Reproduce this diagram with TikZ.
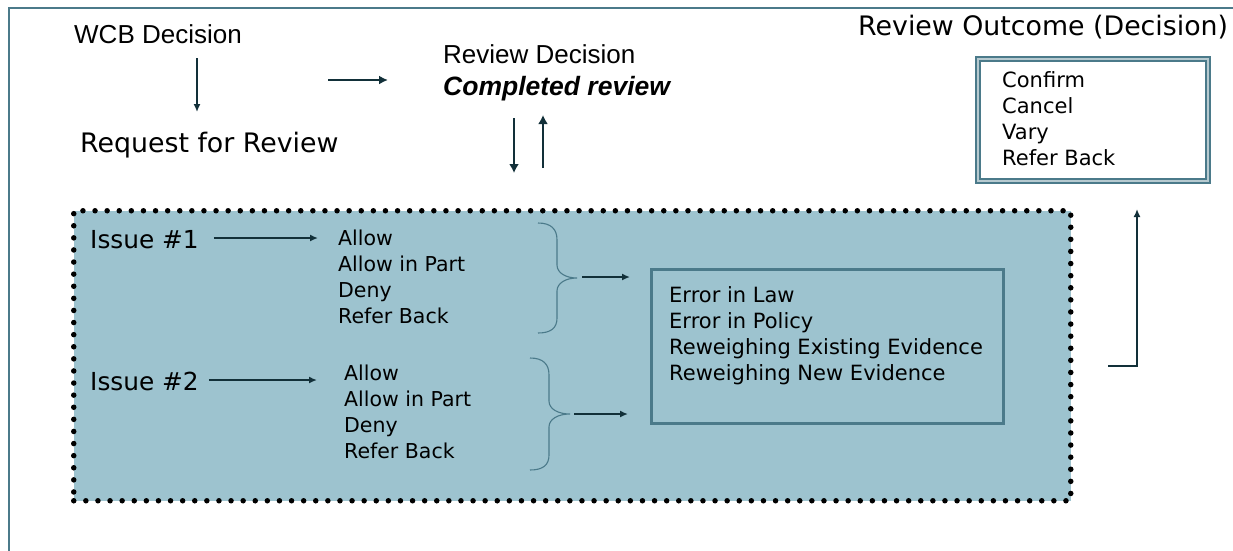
\documentclass[tikz,border=0pt]{standalone}
\usepackage{fontspec}
\setmainfont{DejaVu Sans}
\newfontfamily\arialfont{Liberation Sans}
\usepackage{tikz}
\usetikzlibrary{arrows.meta}
\definecolor{frameteal}{HTML}{4B7A8A}
\definecolor{panelblue}{HTML}{9DC3CF}
\definecolor{arrowdark}{HTML}{123039}

\begin{document}
\begin{tikzpicture}[x=1pt,y=-1pt,
  every node/.style={inner sep=0pt, anchor=base west, text=black},
  heading/.style={font=\arialfont\fontsize{26}{30}\selectfont},
  emphheading/.style={font=\arialfont\bfseries\itshape\fontsize{26.5}{30}\selectfont},
  title/.style={font=\fontsize{26.8}{30}\selectfont},
  issue/.style={font=\fontsize{24.8}{28}\selectfont, text height=20pt, text depth=0pt},
  choices/.style={font=\fontsize{21}{26}\selectfont, align=left},
  answers/.style={choices, font=\fontsize{20.5}{26}\selectfont},
  flow/.style={draw=arrowdark, line width=1.8pt, -{Latex[length=8pt,width=7pt]}},
  bigflow/.style={flow, line width=2.6pt, -{Latex[length=9pt,width=10pt]}},
  curly/.style={draw=frameteal, line width=1.1pt},
  panel/.style={fill=panelblue, draw=black, line width=5.5pt, line cap=round, dash pattern=on 0pt off 12.1pt},
  gbox/.style={draw=frameteal, line width=3pt},
  obox/.style={draw=frameteal, line width=2.5pt, double=frameteal!40, double distance=1.5pt}
]
  \useasboundingbox (0,0) rectangle (1233,550);
  \draw[frameteal, line width=2pt] (9,552) |- (1235,8);

  % top row
  \node[heading] (wcb) at (74,43) {WCB Decision};
  \node[title] (req) at (80,152) {Request for Review};
  \node[heading] (rev) at (443,63) {Review Decision};
  \node[emphheading] (done) at (443,95) {Completed review};
  \node[title] (outc) at (858,35) {Review Outcome (Decision)};

  \coordinate (wcbdown) at (197,58);
  \draw[flow, line width=1.5pt] (wcbdown) -- ++(0,54);
  \coordinate (toreview) at (328,80);
  \draw[flow, line width=2.2pt, -{Latex[length=9pt,width=9pt]}, shorten >=55pt] (toreview) -- (toreview -| rev.west);
  \coordinate (dn) at (514,118);
  \coordinate (up) at (543,168);
  \draw[bigflow] (dn) -- ++(0,55);
  \draw[bigflow] (up) -- ++(0,-53);

  % outcome box (node base = last line)
  \node[obox, anchor=north west, minimum width=230pt, minimum height=122pt] (obox) at (976.5,57.5) {};
  \node[choices] (opts) at (1002,165) {Confirm\\Cancel\\Vary\\Refer Back};

  % issues panel
  \node[panel, anchor=north west, minimum width=997pt, minimum height=290pt] (panel) at (71,208) {};

  \node[issue] (iss1) at (90,248) {Issue \#1};
  \node[answers] (ans1) at (338,323) {Allow\\Allow in Part\\Deny\\Refer Back};
  \node[issue] (iss2) at (90,390) {Issue \#2};
  \node[answers] (ans2) at (344,458) {Allow\\Allow in Part\\Deny\\Refer Back};
  \draw[flow, shorten <=15pt, shorten >=20pt] (iss1.east) -- (iss1.east -| ans1.west);
  \draw[flow, shorten <=10pt, shorten >=27pt] (iss2.east) -- (iss2.east -| ans2.west);

  \draw[curly] (538,223) .. controls (551,223) and (557,229) .. (557,240) -- (557,265)
    .. controls (557,273) and (566,278) .. (577,278) .. controls (566,278) and (557,283) .. (557,291)
    -- (557,318) .. controls (557,328) and (551,333) .. (538,333);
  \coordinate (tip1) at (577,277);
  \draw[curly] (530,358) .. controls (543,358) and (549,364) .. (549,375) -- (549,401)
    .. controls (549,409) and (558,414) .. (570,414) .. controls (558,414) and (549,419) .. (549,427)
    -- (549,455) .. controls (549,465) and (543,470) .. (530,470);
  \coordinate (tip2) at (570,414);

  \node[gbox, anchor=north west, minimum width=352pt, minimum height=154pt] (gbox) at (650,268) {};
  \node[choices] (grounds) at (669,380) {Error in Law\\Error in Policy\\Reweighing Existing Evidence\\Reweighing New Evidence};
  \draw[flow, shorten <=5pt, shorten >=20pt] (tip1) -- (tip1 -| gbox.west);
  \draw[flow, shorten <=4pt, shorten >=22pt] (tip2) -- (tip2 -| gbox.west);

  % back to the outcome
  \coordinate (lfoot) at (1108,366);
  \coordinate (lcorner) at (1137,366);
  \draw[flow, line width=2.2pt, shorten >=27pt] (lfoot) -- (lcorner) -- (lcorner |- obox.south);
\end{tikzpicture}
\end{document}
